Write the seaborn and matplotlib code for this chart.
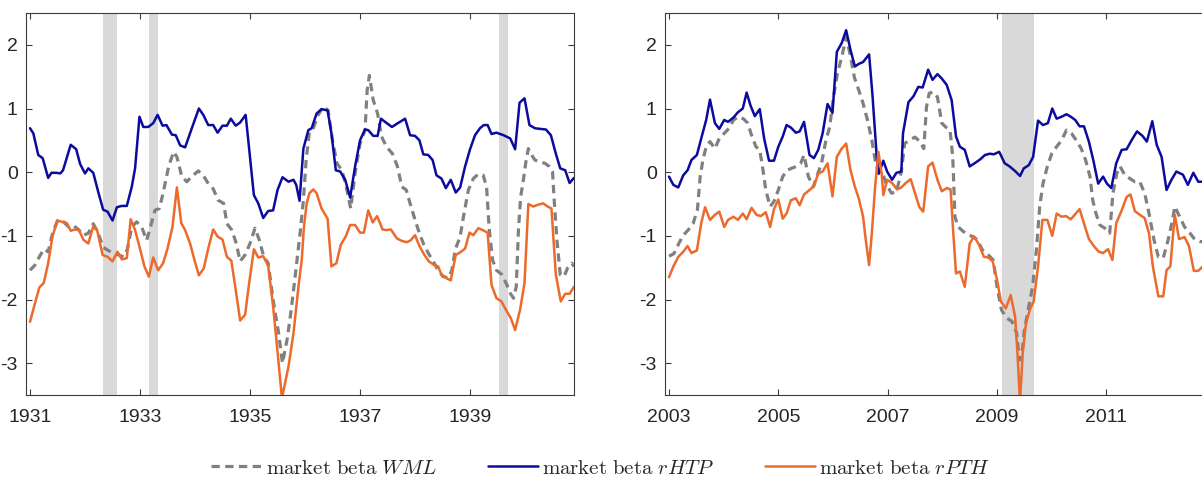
import matplotlib
matplotlib.use("Agg")
import matplotlib.pyplot as plt
import seaborn as sns
import pandas as pd

# ---------------- 1930s sample ----------------
t30_wml = [1931.0, 1931.09, 1931.17, 1931.25, 1931.33, 1931.41, 1931.5, 1931.61, 1931.7, 1931.79,
           1931.88, 1931.97, 1932.06, 1932.15, 1932.24, 1932.33, 1932.42, 1932.52, 1932.61, 1932.7,
           1932.77, 1932.85, 1932.94, 1933.03, 1933.12, 1933.19, 1933.27, 1933.35, 1933.42, 1933.52,
           1933.61, 1933.67, 1933.76, 1933.85, 1933.94, 1934.06, 1934.15, 1934.24, 1934.33, 1934.42,
           1934.52, 1934.58, 1934.67, 1934.75, 1934.82, 1934.91, 1935.0, 1935.09, 1935.17, 1935.25,
           1935.33, 1935.42, 1935.52, 1935.59, 1935.68, 1935.75, 1935.82, 1935.91, 1935.97, 1936.02,
           1936.08, 1936.15, 1936.24, 1936.33, 1936.42, 1936.5, 1936.58, 1936.67, 1936.75, 1936.83,
           1936.91, 1937.0, 1937.09, 1937.13, 1937.17, 1937.24, 1937.32, 1937.39, 1937.48, 1937.59,
           1937.68, 1937.76, 1937.84, 1937.91, 1938.0, 1938.08, 1938.16, 1938.24, 1938.33, 1938.42,
           1938.51, 1938.61, 1938.67, 1938.73, 1938.82, 1938.89, 1938.97, 1939.06, 1939.15, 1939.24,
           1939.3, 1939.35, 1939.41, 1939.48, 1939.58, 1939.67, 1939.73, 1939.79, 1939.84, 1939.88,
           1939.92, 1939.97, 1940.02, 1940.06, 1940.12, 1940.18, 1940.27, 1940.36, 1940.44, 1940.5,
           1940.53, 1940.58, 1940.64, 1940.71, 1940.77, 1940.85, 1940.89]
wml_30 = [-1.54, -1.46, -1.33, -1.21, -1.25, -0.96, -0.76, -0.78, -0.86, -0.84,
          -0.90, -0.99, -0.96, -0.81, -0.96, -1.18, -1.23, -1.27, -1.30, -1.33,
          -1.21, -0.86, -0.78, -0.86, -1.07, -0.86, -0.60, -0.57, -0.33, 0.09,
          0.32, 0.24, -0.07, -0.15, -0.07, 0.02, -0.05, -0.18, -0.26, -0.44,
          -0.49, -0.81, -0.91, -1.12, -1.40, -1.30, -1.12, -0.88, -1.07, -1.33,
          -1.43, -2.01, -2.53, -3.00, -2.60, -2.15, -1.64, -0.96, -0.44, 0.19,
          0.63, 0.69, 0.90, 1.03, 0.97, 0.50, 0.14, 0.03, -0.23, -0.57,
          -0.02, 0.45, 0.66, 1.29, 1.52, 1.13, 0.92, 0.56, 0.40, 0.29,
          0.09, -0.23, -0.28, -0.49, -0.75, -0.96, -1.14, -1.27, -1.40, -1.54,
          -1.64, -1.66, -1.54, -1.22, -1.01, -0.65, -0.28, -0.10, -0.03, -0.05,
          -0.23, -0.91, -1.38, -1.54, -1.61, -1.77, -1.90, -1.98, -1.80, -0.91,
          -0.39, -0.12, 0.19, 0.37, 0.27, 0.19, 0.16, 0.14, 0.09, 0.01,
          -0.44, -1.07, -1.61, -1.64, -1.51, -1.43, -1.48]

t30_htp = [1931.0, 1931.06, 1931.15, 1931.23, 1931.33, 1931.39, 1931.48, 1931.55, 1931.6, 1931.74,
           1931.84, 1931.91, 1932.0, 1932.06, 1932.15, 1932.24, 1932.33, 1932.41, 1932.5, 1932.58,
           1932.67, 1932.76, 1932.85, 1932.91, 1932.99, 1933.06, 1933.15, 1933.24, 1933.32, 1933.41,
           1933.48, 1933.58, 1933.65, 1933.73, 1933.82, 1933.95, 1934.07, 1934.15, 1934.24, 1934.33,
           1934.41, 1934.5, 1934.58, 1934.65, 1934.74, 1934.82, 1934.92, 1934.98, 1935.07, 1935.15,
           1935.24, 1935.33, 1935.42, 1935.5, 1935.59, 1935.7, 1935.79, 1935.84, 1935.9, 1935.97,
           1936.06, 1936.12, 1936.21, 1936.3, 1936.41, 1936.48, 1936.56, 1936.64, 1936.73, 1936.82,
           1936.91, 1937.0, 1937.09, 1937.15, 1937.24, 1937.32, 1937.38, 1937.47, 1937.58, 1937.67,
           1937.82, 1937.91, 1938.0, 1938.08, 1938.15, 1938.24, 1938.32, 1938.39, 1938.48, 1938.56,
           1938.65, 1938.74, 1938.82, 1938.91, 1939.0, 1939.09, 1939.18, 1939.25, 1939.32, 1939.39,
           1939.48, 1939.61, 1939.73, 1939.82, 1939.9, 1939.99, 1940.08, 1940.18, 1940.27, 1940.38,
           1940.47, 1940.56, 1940.64, 1940.73, 1940.81, 1940.89]
htp_30 = [0.69, 0.61, 0.27, 0.22, -0.09, -0.01, -0.01, -0.02, 0.03, 0.43,
          0.36, 0.13, -0.02, 0.06, -0.01, -0.31, -0.59, -0.62, -0.76, -0.55,
          -0.53, -0.53, -0.23, 0.06, 0.87, 0.71, 0.71, 0.77, 0.90, 0.73,
          0.74, 0.59, 0.58, 0.42, 0.39, 0.71, 1.00, 0.90, 0.74, 0.74,
          0.62, 0.73, 0.73, 0.84, 0.73, 0.78, 0.90, 0.40, -0.36, -0.49,
          -0.72, -0.61, -0.60, -0.28, -0.08, -0.15, -0.12, -0.20, -0.45, 0.37,
          0.66, 0.69, 0.92, 0.99, 0.97, 0.61, 0.03, 0.01, -0.12, -0.40,
          0.09, 0.50, 0.67, 0.66, 0.57, 0.57, 0.84, 0.78, 0.71, 0.76,
          0.84, 0.58, 0.57, 0.50, 0.28, 0.27, 0.19, -0.05, -0.10, -0.25,
          -0.12, -0.32, -0.24, 0.09, 0.36, 0.58, 0.69, 0.74, 0.74, 0.60,
          0.62, 0.58, 0.53, 0.36, 1.09, 1.16, 0.74, 0.69, 0.68, 0.67,
          0.58, 0.29, 0.06, 0.03, -0.17, -0.09]

t30_pth = [1931.0, 1931.09, 1931.17, 1931.25, 1931.33, 1931.41, 1931.5, 1931.58, 1931.67, 1931.74,
           1931.82, 1931.89, 1931.97, 1932.06, 1932.15, 1932.22, 1932.32, 1932.41, 1932.5, 1932.59,
           1932.67, 1932.76, 1932.83, 1932.91, 1932.99, 1933.08, 1933.16, 1933.24, 1933.33, 1933.42,
           1933.5, 1933.59, 1933.67, 1933.75, 1933.82, 1933.91, 1933.99, 1934.07, 1934.16, 1934.24,
           1934.33, 1934.41, 1934.5, 1934.58, 1934.66, 1934.74, 1934.82, 1934.91, 1934.98, 1935.07,
           1935.15, 1935.24, 1935.33, 1935.42, 1935.5, 1935.58, 1935.64, 1935.7, 1935.79, 1935.88,
           1935.94, 1935.98, 1936.03, 1936.08, 1936.15, 1936.21, 1936.3, 1936.41, 1936.48, 1936.57,
           1936.65, 1936.74, 1936.82, 1936.91, 1937.0, 1937.07, 1937.15, 1937.23, 1937.31, 1937.41,
           1937.48, 1937.56, 1937.67, 1937.76, 1937.85, 1937.92, 1938.0, 1938.08, 1938.17, 1938.25,
           1938.35, 1938.42, 1938.48, 1938.58, 1938.65, 1938.74, 1938.82, 1938.91, 1938.99, 1939.06,
           1939.15, 1939.23, 1939.32, 1939.39, 1939.48, 1939.57, 1939.67, 1939.74, 1939.82, 1939.91,
           1939.99, 1940.06, 1940.15, 1940.24, 1940.33, 1940.41, 1940.48, 1940.56, 1940.65, 1940.73,
           1940.81, 1940.89]
pth_30 = [-2.35, -2.06, -1.81, -1.74, -1.43, -1.00, -0.76, -0.78, -0.80, -0.92,
          -0.90, -0.91, -1.06, -1.12, -0.85, -0.91, -1.30, -1.33, -1.40, -1.25,
          -1.37, -1.35, -0.74, -0.91, -1.17, -1.48, -1.64, -1.34, -1.54, -1.43,
          -1.20, -0.86, -0.24, -0.80, -0.91, -1.12, -1.38, -1.62, -1.51, -1.20,
          -0.90, -1.01, -1.06, -1.33, -1.39, -1.85, -2.33, -2.24, -1.77, -1.21,
          -1.34, -1.32, -1.47, -2.11, -2.82, -3.55, -3.30, -3.05, -2.53, -1.80,
          -1.38, -0.86, -0.49, -0.33, -0.27, -0.33, -0.57, -0.73, -1.48, -1.43,
          -1.14, -1.01, -0.83, -0.83, -0.95, -0.95, -0.60, -0.79, -0.69, -0.90,
          -0.91, -0.90, -1.04, -1.08, -1.10, -1.07, -0.99, -1.16, -1.30, -1.40,
          -1.46, -1.48, -1.61, -1.67, -1.70, -1.30, -1.26, -1.20, -0.95, -0.99,
          -0.88, -0.91, -0.95, -1.77, -1.98, -2.03, -2.19, -2.29, -2.48, -2.16,
          -1.74, -0.50, -0.54, -0.51, -0.49, -0.54, -0.57, -1.61, -2.03, -1.91,
          -1.91, -1.80]

shade_30 = [(1932.33, 1932.58), (1933.16, 1933.32), (1939.53, 1939.69)]

# ---------------- 2000s sample ----------------
t00_wml = [2003.0, 2003.09, 2003.18, 2003.26, 2003.35, 2003.44, 2003.52, 2003.57, 2003.62, 2003.68,
           2003.75, 2003.84, 2003.92, 2004.01, 2004.1, 2004.18, 2004.27, 2004.36, 2004.44, 2004.51,
           2004.59, 2004.66, 2004.72, 2004.77, 2004.85, 2004.92, 2005.0, 2005.08, 2005.16, 2005.24,
           2005.33, 2005.41, 2005.47, 2005.55, 2005.64, 2005.71, 2005.79, 2005.87, 2005.94, 2006.0,
           2006.08, 2006.16, 2006.24, 2006.31, 2006.39, 2006.47, 2006.55, 2006.63, 2006.71, 2006.77,
           2006.83, 2006.91, 2006.98, 2007.07, 2007.16, 2007.25, 2007.31, 2007.41, 2007.5, 2007.59,
           2007.66, 2007.71, 2007.76, 2007.83, 2007.91, 2007.99, 2008.06, 2008.14, 2008.19, 2008.23,
           2008.29, 2008.38, 2008.47, 2008.55, 2008.64, 2008.73, 2008.84, 2008.93, 2009.0, 2009.08,
           2009.17, 2009.27, 2009.36, 2009.41, 2009.45, 2009.5, 2009.57, 2009.65, 2009.72, 2009.78,
           2009.84, 2009.92, 2010.0, 2010.09, 2010.18, 2010.27, 2010.36, 2010.45, 2010.54, 2010.62,
           2010.7, 2010.75, 2010.81, 2010.88, 2010.97, 2011.06, 2011.12, 2011.19, 2011.25, 2011.34,
           2011.43, 2011.52, 2011.61, 2011.7, 2011.78, 2011.87, 2011.95, 2012.04, 2012.13, 2012.21,
           2012.25, 2012.34, 2012.43, 2012.53, 2012.62, 2012.71, 2012.8]
wml_00 = [-1.32, -1.28, -1.12, -0.99, -0.91, -0.81, -0.59, -0.07, 0.19, 0.40,
          0.48, 0.37, 0.53, 0.61, 0.69, 0.82, 0.87, 0.84, 0.77, 0.58,
          0.40, 0.35, 0.03, -0.28, -0.54, -0.46, -0.28, -0.07, 0.03, 0.06,
          0.09, 0.14, 0.27, -0.07, -0.23, -0.05, 0.14, 0.50, 0.71, 1.13,
          1.55, 1.81, 2.12, 1.86, 1.49, 1.29, 1.08, 0.82, 0.50, 0.19,
          -0.02, -0.02, -0.20, -0.33, -0.31, 0.01, 0.45, 0.51, 0.55, 0.48,
          0.37, 1.03, 1.24, 1.26, 1.18, 0.77, 0.71, 0.66, 0.24, -0.70,
          -0.86, -0.93, -0.98, -1.01, -1.06, -1.22, -1.30, -1.38, -1.80, -2.16,
          -2.29, -2.34, -2.53, -2.95, -2.89, -2.48, -2.16, -1.80, -1.22, -0.54,
          -0.18, 0.09, 0.29, 0.40, 0.50, 0.66, 0.61, 0.50, 0.37, 0.19,
          -0.07, -0.44, -0.65, -0.83, -0.88, -0.96, -0.33, -0.02, 0.09, -0.05,
          -0.10, -0.15, -0.15, -0.33, -0.65, -1.06, -1.33, -1.35, -1.06, -0.75,
          -0.54, -0.70, -0.86, -0.96, -1.06, -1.09, -1.09]

t00_htp = [2003.0, 2003.08, 2003.17, 2003.26, 2003.34, 2003.41, 2003.51, 2003.59, 2003.68, 2003.75,
           2003.84, 2003.92, 2004.01, 2004.08, 2004.18, 2004.26, 2004.35, 2004.42, 2004.49, 2004.57,
           2004.66, 2004.74, 2004.83, 2004.92, 2005.0, 2005.08, 2005.15, 2005.23, 2005.32, 2005.39,
           2005.47, 2005.57, 2005.65, 2005.73, 2005.81, 2005.9, 2005.99, 2006.07, 2006.16, 2006.24,
           2006.32, 2006.4, 2006.47, 2006.55, 2006.66, 2006.72, 2006.8, 2006.84, 2006.92, 2006.99,
           2007.08, 2007.16, 2007.25, 2007.28, 2007.38, 2007.47, 2007.56, 2007.64, 2007.74, 2007.82,
           2007.91, 2007.99, 2008.08, 2008.17, 2008.25, 2008.32, 2008.41, 2008.5, 2008.59, 2008.69,
           2008.78, 2008.87, 2008.94, 2009.04, 2009.14, 2009.23, 2009.34, 2009.42, 2009.49, 2009.58,
           2009.66, 2009.75, 2009.84, 2009.93, 2010.01, 2010.09, 2010.18, 2010.27, 2010.35, 2010.43,
           2010.51, 2010.59, 2010.68, 2010.76, 2010.85, 2010.94, 2011.01, 2011.09, 2011.18, 2011.28,
           2011.37, 2011.46, 2011.56, 2011.66, 2011.74, 2011.84, 2011.92, 2012.01, 2012.1, 2012.19,
           2012.28, 2012.4, 2012.49, 2012.59, 2012.68, 2012.8]
htp_00 = [-0.07, -0.20, -0.24, -0.05, 0.03, 0.19, 0.27, 0.53, 0.82, 1.14,
          0.77, 0.68, 0.82, 0.79, 0.86, 0.94, 1.00, 1.25, 1.05, 0.88,
          0.99, 0.53, 0.18, 0.18, 0.40, 0.56, 0.74, 0.70, 0.62, 0.64,
          0.79, 0.27, 0.22, 0.35, 0.61, 1.07, 0.93, 1.89, 2.03, 2.23,
          1.92, 1.66, 1.70, 1.73, 1.85, 1.23, 0.24, -0.02, 0.18, 0.01,
          -0.12, -0.01, 0.01, 0.61, 1.10, 1.19, 1.34, 1.33, 1.61, 1.45,
          1.54, 1.47, 1.37, 1.13, 0.56, 0.40, 0.35, 0.09, 0.14, 0.20,
          0.27, 0.29, 0.28, 0.32, 0.14, 0.09, 0.01, -0.06, 0.06, 0.11,
          0.24, 0.81, 0.74, 0.77, 1.00, 0.84, 0.87, 0.91, 0.87, 0.82,
          0.72, 0.72, 0.48, 0.19, -0.18, -0.07, -0.18, -0.25, 0.14, 0.35,
          0.36, 0.50, 0.64, 0.57, 0.48, 0.80, 0.43, 0.24, -0.28, -0.12,
          0.01, -0.04, -0.20, -0.01, -0.15, -0.15]

t00_pth = [2003.0, 2003.08, 2003.17, 2003.26, 2003.34, 2003.41, 2003.51, 2003.59, 2003.66, 2003.75,
           2003.84, 2003.92, 2004.01, 2004.08, 2004.18, 2004.26, 2004.35, 2004.42, 2004.51, 2004.6,
           2004.68, 2004.77, 2004.85, 2004.92, 2005.0, 2005.08, 2005.15, 2005.23, 2005.32, 2005.39,
           2005.47, 2005.57, 2005.65, 2005.73, 2005.81, 2005.9, 2005.99, 2006.07, 2006.15, 2006.24,
           2006.32, 2006.4, 2006.47, 2006.55, 2006.6, 2006.66, 2006.71, 2006.77, 2006.83, 2006.89,
           2006.92, 2006.99, 2007.08, 2007.17, 2007.25, 2007.33, 2007.42, 2007.5, 2007.58, 2007.65,
           2007.74, 2007.82, 2007.91, 2007.99, 2008.08, 2008.15, 2008.2, 2008.25, 2008.32, 2008.41,
           2008.5, 2008.58, 2008.67, 2008.76, 2008.84, 2008.92, 2009.0, 2009.07, 2009.16, 2009.25,
           2009.33, 2009.37, 2009.42, 2009.47, 2009.53, 2009.6, 2009.67, 2009.75, 2009.83, 2009.92,
           2010.01, 2010.09, 2010.18, 2010.26, 2010.35, 2010.43, 2010.51, 2010.61, 2010.68, 2010.77,
           2010.86, 2010.94, 2011.03, 2011.11, 2011.18, 2011.28, 2011.37, 2011.44, 2011.52, 2011.61,
           2011.7, 2011.78, 2011.85, 2011.95, 2012.04, 2012.1, 2012.17, 2012.25, 2012.33, 2012.43,
           2012.51, 2012.6, 2012.68, 2012.8]
pth_00 = [-1.65, -1.48, -1.33, -1.25, -1.16, -1.27, -1.23, -0.80, -0.55, -0.75,
          -0.67, -0.62, -0.86, -0.75, -0.70, -0.75, -0.65, -0.74, -0.56, -0.67,
          -0.69, -0.63, -0.86, -0.58, -0.43, -0.73, -0.65, -0.44, -0.41, -0.52,
          -0.35, -0.28, -0.22, -0.02, 0.01, 0.14, -0.38, 0.24, 0.36, 0.45,
          0.03, -0.23, -0.41, -0.70, -1.07, -1.46, -0.96, -0.23, 0.32, -0.02,
          -0.36, -0.12, -0.17, -0.27, -0.24, -0.17, -0.11, -0.33, -0.55, -0.62,
          0.09, 0.15, -0.12, -0.30, -0.25, -0.27, -0.96, -1.59, -1.56, -1.80,
          -1.12, -1.01, -1.14, -1.33, -1.34, -1.40, -1.69, -2.03, -2.14, -1.93,
          -2.27, -2.79, -3.60, -2.84, -2.37, -2.16, -2.03, -1.48, -0.75, -0.75,
          -1.00, -0.65, -0.70, -0.69, -0.74, -0.66, -0.58, -0.86, -1.05, -1.16,
          -1.25, -1.27, -1.21, -1.38, -0.80, -0.60, -0.39, -0.35, -0.61, -0.67,
          -0.72, -0.96, -1.48, -1.95, -1.95, -1.54, -1.48, -0.67, -1.05, -1.02,
          -1.16, -1.55, -1.55, -1.45]

shade_00 = [(2009.09, 2009.67)]

tick_years_30 = [1931, 1933, 1935, 1937, 1939]
tick_years_00 = [2003, 2005, 2007, 2009, 2011]
y_ticks = [-3, -2, -1, 0, 1, 2]

labels = [r"$\mathrm{market\ beta}\ WML$",
          r"$\mathrm{market\ beta}\ rHTP$",
          r"$\mathrm{market\ beta}\ rPTH$"]

# ---------------- styling ----------------
sns.set_theme(style="white")
plt.rcParams["font.family"] = ["Liberation Sans", "DejaVu Sans"]
plt.rcParams["mathtext.fontset"] = "cm"
plt.rcParams["axes.unicode_minus"] = False

C_WML = "#808080"
C_HTP = "#0b0b9e"
C_PTH = "#ec6a2c"
C_SHADE = "#d9d9d9"
C_AXIS = "#3c3c3c"

W, H = 1202, 479
fig = plt.figure(figsize=(W / 100, H / 100), dpi=100)
ax_l = fig.add_axes([26 / W, 1 - 395 / H, 548 / W, 382 / H])
ax_r = fig.add_axes([665 / W, 1 - 395 / H, 548 / W, 382 / H])


def draw_panel(ax, tw, vw, th, vh, tp, vp, spans, ticks, xlim):
    for a, b in spans:
        ax.axvspan(a, b, color=C_SHADE, lw=0, zorder=0)
    sns.lineplot(x=tw, y=vw, ax=ax, color=C_WML, lw=2.3, zorder=2,
                 linestyle=(0, (2.6, 1.7)), estimator=None, sort=False)
    sns.lineplot(x=th, y=vh, ax=ax, color=C_HTP, lw=1.8, zorder=3,
                 estimator=None, sort=False)
    sns.lineplot(x=tp, y=vp, ax=ax, color=C_PTH, lw=1.8, zorder=4,
                 estimator=None, sort=False)
    ax.set_xlim(*xlim)
    ax.set_ylim(-3.5, 2.5)
    ax.set_xticks(ticks)
    ax.set_xticklabels([str(t) for t in ticks])
    ax.set_yticks(y_ticks)
    ax.set_yticklabels([str(t) for t in y_ticks])
    ax.set_xlabel("")
    ax.set_ylabel("")
    ax.tick_params(axis="both", direction="in", length=4, width=0.8,
                   color=C_AXIS, labelcolor="#262626", labelsize=14,
                   top=True, right=True, bottom=True, left=True)
    ax.tick_params(axis="x", pad=10)
    ax.tick_params(axis="y", pad=6)
    for sp in ax.spines.values():
        sp.set_visible(True)
        sp.set_color(C_AXIS)
        sp.set_linewidth(0.8)
    ax.grid(False)
    ax.set_facecolor("white")


draw_panel(ax_l, t30_wml, wml_30, t30_htp, htp_30, t30_pth, pth_30,
           shade_30, tick_years_30, (1930.927, 1940.89))
draw_panel(ax_r, t00_wml, wml_00, t00_htp, htp_00, t00_pth, pth_00,
           shade_00, tick_years_00, (2002.927, 2012.95))

handles = ax_l.get_lines()[:3]
fig.legend(handles, labels, loc="center", bbox_to_anchor=(0.5, 1 - 468 / H),
           ncol=3, frameon=False, fontsize=15, handlelength=2.4,
           handletextpad=0.2, columnspacing=2.45, borderpad=0.1)

fig.savefig("out.png", dpi=100)
